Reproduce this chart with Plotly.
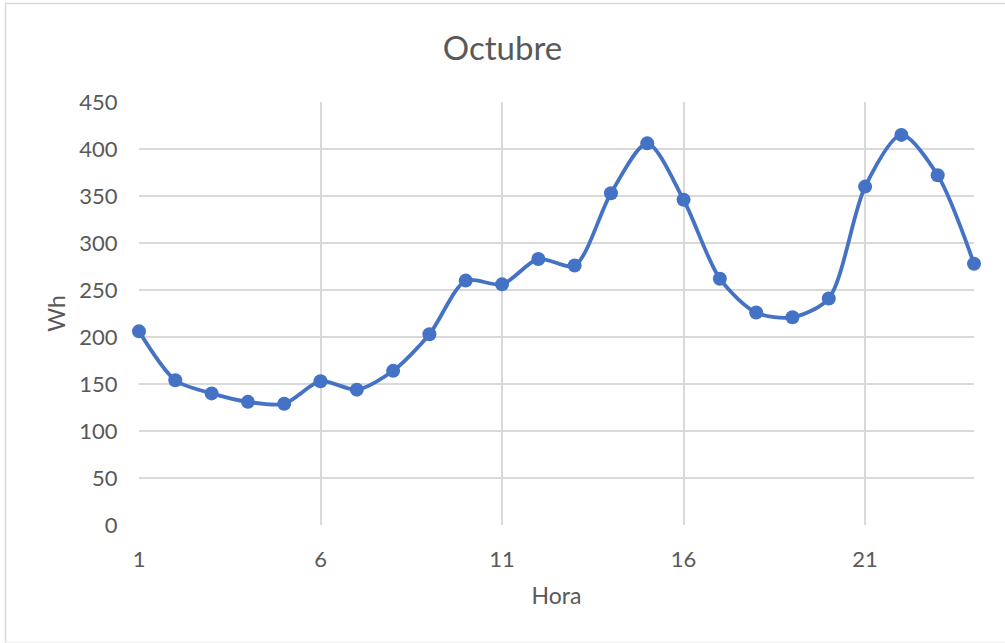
import plotly.graph_objects as go

# Hourly consumption for October (Wh)
hours = list(range(1, 25))
wh = [206, 154, 140, 131, 129, 153, 144, 164, 203, 260, 256, 283,
      276, 353, 406, 346, 262, 226, 221, 241, 360, 415, 372, 278]

x_ticks = [1, 6, 11, 16, 21]
y_ticks = [0, 50, 100, 150, 200, 250, 300, 350, 400, 450]

BLUE = "#4472C4"
GRID = "#D9D9D9"
TEXT = "#595959"
FONT = "Lato"

fig = go.Figure(
    go.Scatter(
        x=hours,
        y=wh,
        mode="lines+markers",
        line=dict(color=BLUE, width=3.8, shape="spline", smoothing=0.8),
        marker=dict(color=BLUE, size=14),
        cliponaxis=False,
        showlegend=False,
    )
)

W, H = 1005, 643
L, R, T, B = 139, 31, 102, 118
pw, ph = W - L - R, H - T - B


def px_x(p):
    return (p - L) / pw


def px_y(p):
    return (H - B - p) / ph


fig.update_layout(
    width=W,
    height=H,
    margin=dict(l=L, r=R, t=T, b=B),
    paper_bgcolor="white",
    plot_bgcolor="white",
    font=dict(family=FONT, color=TEXT, size=22),
    title=dict(
        text="Octubre",
        font=dict(family=FONT, size=33, color=TEXT),
        x=0.5,
        xanchor="center",
        y=1 - 48 / H,
        yanchor="middle",
    ),
    xaxis=dict(
        range=[1, 24],
        tickvals=x_ticks,
        showgrid=True,
        gridcolor=GRID,
        gridwidth=1.5,
        zeroline=False,
        showline=False,
        ticks="outside",
        ticklen=15,
        tickcolor="rgba(0,0,0,0)",
        tickfont=dict(size=22, color=TEXT),
        title=dict(text="Hora", font=dict(size=23, color=TEXT), standoff=16),
    ),
    yaxis=dict(
        range=[0, 450],
        tickvals=y_ticks,
        showgrid=True,
        gridcolor=GRID,
        gridwidth=1.5,
        zeroline=False,
        showline=False,
        ticks="outside",
        ticklen=16,
        tickcolor="rgba(0,0,0,0)",
        tickfont=dict(size=22, color=TEXT),
        title=dict(text="Wh", font=dict(size=23, color=TEXT), standoff=7),
    ),
    shapes=[
        # chart frame
        dict(type="line", xref="paper", yref="paper",
             x0=px_x(5), x1=px_x(1005), y0=px_y(3.5), y1=px_y(3.5),
             line=dict(color=GRID, width=1.5), layer="below"),
        dict(type="line", xref="paper", yref="paper",
             x0=px_x(5.5), x1=px_x(5.5), y0=px_y(3.5), y1=px_y(643),
             line=dict(color=GRID, width=1.5), layer="below"),
        dict(type="line", xref="paper", yref="paper",
             x0=px_x(5), x1=px_x(1005), y0=px_y(642), y1=px_y(642),
             line=dict(color="#EFEFEF", width=1), layer="below"),
    ],
)

fig.write_html("out.html")
